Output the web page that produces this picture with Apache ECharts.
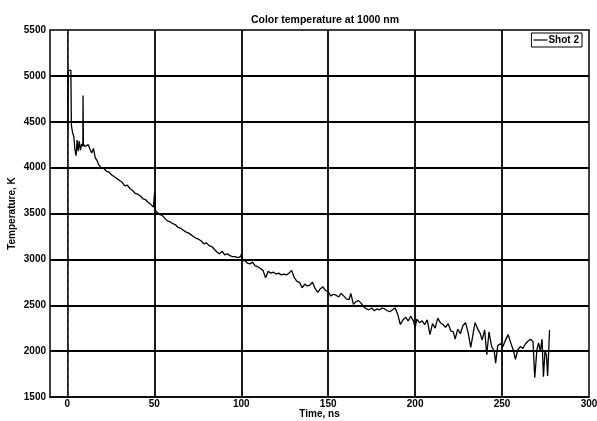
<!DOCTYPE html>
<html>
<head>
<meta charset="utf-8">
<script src="https://cdn.jsdelivr.net/npm/echarts@6/dist/echarts.min.js"></script>
<style>
    html, body { margin: 0; padding: 0; background: #fff; }
    #chart { width: 597px; height: 421px; }
</style>
</head>
<body>
<div id="chart"></div>
<script>
// 数据：时间 (ns) 与 温度 (K)
var timeNs = [
    0.2, 0.5, 2.0, 2.3, 3.0, 3.7, 4.3, 5.0, 5.6, 6.2, 6.8, 7.5, 8.2, 8.9, 9.0, 9.2,
    10, 11, 12, 13, 14, 15, 16, 17, 18, 19.5, 21, 22.5, 24, 25.5, 27, 28.5, 30, 31.5,
    33, 34.5, 36, 37.5, 39, 40.5, 42, 43.5, 45, 46.5, 48, 49.5, 50.2, 50.6, 51.5, 53,
    54.5, 56, 57.5, 59, 60.5, 62, 63.5, 65, 66.5, 68, 69.5, 71, 72.5, 74, 75.5, 77,
    78.5, 80, 81.5, 83, 84.5, 86, 87.5, 89, 90.5, 92, 93.5, 95, 96.5, 98, 99.5, 100.2,
    100.6, 102, 103.5, 105, 106.5, 108, 109.5, 111, 112.5, 114, 115.5, 117, 118.5, 120,
    121.5, 123, 124.5, 126, 127.5, 129, 130.5, 132, 133.5, 135, 136.5, 138, 139.5, 141,
    142.5, 144, 145.5, 147, 148.5, 150, 151.5, 153, 154.5, 156, 157.5, 159, 160.5, 162,
    163, 164.5, 166, 167.5, 169, 170.5, 172, 173.5, 175, 176.5, 178, 179.5, 181, 182.5,
    184, 185.5, 187, 188.5, 190, 191.5, 193, 194.5, 196, 197.5, 199, 200, 201, 202.5,
    204, 205.5, 207, 208.5, 210, 211.5, 213, 214.5, 216, 217.5, 219, 220.5, 222, 223,
    224.5, 226, 227.5, 229, 230.5, 232, 233.5, 234.5, 236, 237.5, 238.5, 240, 241.2,
    242.5, 244, 245.5, 246.3, 247.5, 249, 250.5, 252, 253.5, 255, 256.5, 257.7, 259,
    260.5, 262, 263.5, 265, 266.5, 267.8, 268.8, 270, 271, 272, 273, 273.8, 274.7,
    275.5, 276.2, 276.8, 277.3
];
var tempK = [
    4400, 5060, 5060, 4460, 4380, 4340, 4200, 4130, 4300, 4180, 4290, 4190, 4260, 4230, 4785, 4260,
    4230, 4210, 4250, 4200, 4160, 4210, 4110, 4080, 4030, 4000, 3990, 3960, 3950, 3920, 3900, 3880, 3860, 3840,
    3800, 3810, 3770, 3750, 3720, 3710, 3690, 3660, 3650, 3620, 3600, 3570, 3740, 3530, 3510, 3490,
    3480, 3450, 3420, 3410, 3390, 3380, 3350, 3340, 3320, 3300, 3290, 3270, 3250, 3230, 3220, 3200,
    3170, 3180, 3150, 3140, 3110, 3080, 3060, 3090, 3050, 3060, 3040, 3030, 3030, 3020, 3030, 3060,
    2980, 2990, 2960, 2950, 2970, 2930, 2920, 2900, 2880, 2800, 2870, 2850, 2860, 2840,
    2850, 2830, 2840, 2830, 2850, 2880, 2800, 2760, 2750, 2690, 2730, 2710, 2720, 2750,
    2680, 2640, 2680, 2700, 2660, 2650, 2600, 2620, 2610, 2590, 2630, 2600, 2570, 2560,
    2630, 2510, 2540, 2550, 2520, 2480, 2460, 2450, 2470, 2440, 2460, 2450, 2470, 2460,
    2440, 2430, 2450, 2470, 2400, 2290, 2340, 2370, 2330, 2380, 2330, 2260, 2350, 2310,
    2330, 2290, 2340, 2180, 2300, 2250, 2360, 2310, 2290, 2260, 2300, 2220, 2210, 2130,
    2240, 2190, 2280, 2310, 2200, 2040, 2210, 2310, 2240, 2190, 2120, 2230, 1960,
    2210, 2050, 2000, 1870, 2060, 2080, 2050, 2120, 2180, 2090, 2010, 1910, 2010,
    2050, 2030, 2080, 2110, 2130, 2100, 1710, 2010, 2090, 2000, 2130, 1720, 2000,
    1960, 1730, 1990, 2230
];
var xTicks = [0, 50, 100, 150, 200, 250];
var yTicks = [2000, 2500, 3000, 3500, 4000, 4500, 5000];

var seriesData = [];
for (var i = 0; i < timeNs.length; i++) {
    seriesData.push([timeNs[i], tempK[i]]);
}

// 网格线用 markLine 画，x=0 那条在扫描件里是虚的
var gridLines = [];
xTicks.forEach(function (v) {
    gridLines.push({ xAxis: v, lineStyle: { type: v === 0 ? 'dotted' : 'solid', width: v === 0 ? 1 : 1.8 } });
});
yTicks.forEach(function (v) {
    gridLines.push({ yAxis: v });
});

var labelFont = {
    color: '#000',
    fontFamily: 'Liberation Sans, Arial, sans-serif',
    fontWeight: 'bold',
    fontSize: 10
};

var myChart = echarts.init(document.getElementById('chart'));
myChart.setOption({
    animation: false,
    backgroundColor: '#fff',
    title: {
        text: 'Color temperature at 1000 nm',
        left: 320,
        textAlign: 'center',
        top: 10,
        textStyle: { color: '#000', fontFamily: 'Liberation Sans, Arial, sans-serif', fontWeight: 'bold', fontSize: 10.5 }
    },
    legend: {
        right: 15,
        top: 33,
        data: [{ name: 'Shot 2', icon: 'rect' }],
        backgroundColor: '#fff',
        borderColor: '#000',
        borderWidth: 1,
        borderRadius: 0,
        padding: [2, 3, 2, 2],
        itemWidth: 14,
        itemHeight: 1.2,
        itemGap: 2,
        textStyle: { color: '#000', fontFamily: 'Liberation Sans, Arial, sans-serif', fontWeight: 'bold', fontSize: 10, padding: [0, 0, 0, -4] }
    },
    grid: {
        left: 50,
        right: 8,
        top: 30,
        bottom: 24,
        outerBoundsMode: 'none', // 不要自动挤压网格
        show: true,
        borderColor: '#000',
        borderWidth: 1.5,
        backgroundColor: '#fff'
    },
    xAxis: {
        type: 'value',
        min: -10,
        max: 300,
        interval: 10, // min 是 10 的倍数
        name: 'Time, ns',
        nameLocation: 'middle',
        nameMoveOverlap: false,
        nameGap: 12,
        nameTextStyle: labelFont,
        axisLine: { show: true, lineStyle: { color: '#000', width: 1.5 } },
        axisTick: { show: false },
        splitLine: { show: false },
        axisLabel: Object.assign({
            margin: 2,
            formatter: function (v) { return v % 50 === 0 ? String(v) : ''; }
        }, labelFont)
    },
    yAxis: {
        type: 'value',
        min: 1500,
        max: 5500,
        interval: 500,
        name: 'Temperature, K',
        nameLocation: 'middle',
        nameMoveOverlap: false,
        nameGap: 33,
        nameTextStyle: labelFont,
        axisLine: { show: true, lineStyle: { color: '#000', width: 1.5 } },
        axisTick: { show: false },
        splitLine: { show: false },
        axisLabel: Object.assign({
            margin: 4,
            formatter: function (v) { return String(v); }
        }, labelFont)
    },
    series: [
        {
            name: 'Shot 2',
            type: 'line',
            data: seriesData,
            symbol: 'none',
            lineStyle: { color: '#000', width: 1.3 },
            itemStyle: { color: '#000' },
            markLine: {
                silent: true,
                symbol: 'none',
                animation: false,
                label: { show: false },
                lineStyle: { color: '#000', width: 1.8, type: 'solid' },
                data: gridLines
            }
        }
    ]
});
</script>
</body>
</html>
